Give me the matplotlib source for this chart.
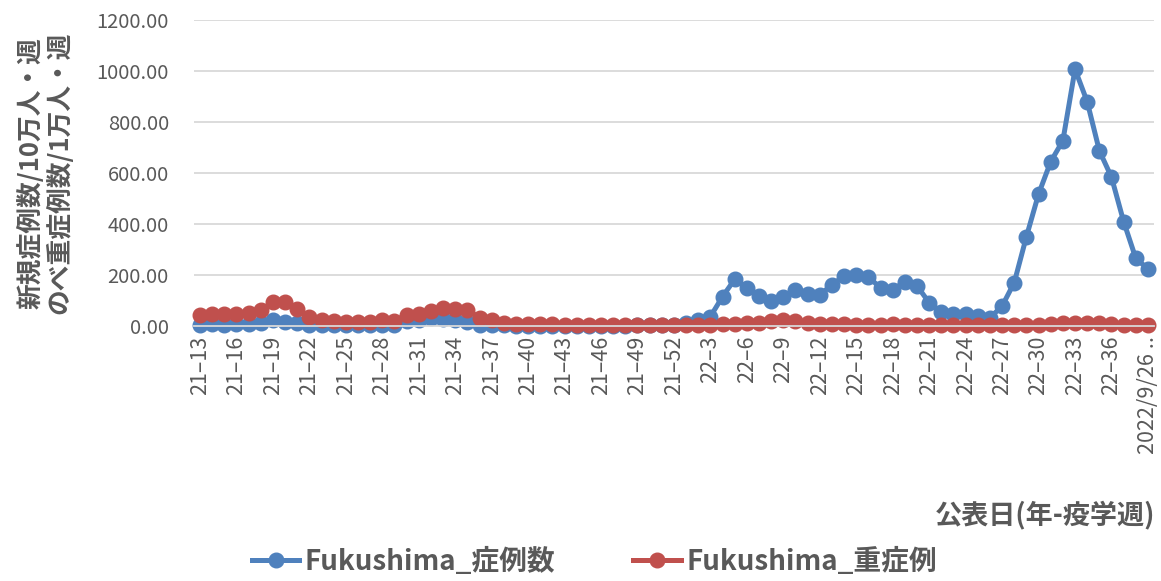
import matplotlib
matplotlib.use('Agg')
import matplotlib.pyplot as plt

plt.rcParams['font.family'] = ['Noto Sans CJK JP', 'DejaVu Sans']

# categories: 21-13 .. 21-52, 22-1 .. 22-38, then the last date
WEEKS_21 = list(range(13, 53))
WEEKS_22 = list(range(1, 39))
LAST_LABEL = '2022/9/26 ..'
categories = (['21–{}'.format(w) for w in WEEKS_21]
              + ['22–{}'.format(w) for w in WEEKS_22]
              + [LAST_LABEL])

# new cases per 100k per week
cases = [5, 6, 5, 6, 6, 12, 25, 15, 10, 3,
         2, 2, 2, 2, 3, 3, 3, 18, 22, 30,
         27, 25, 15, 5, 2, 2, 1, 1, 1, 1,
         1, 1, 1, 1, 1, 1, 2, 2, 3, 5,
         10, 23, 37, 115, 183, 148, 119, 99, 112, 141,
         125, 122, 161, 196, 201, 193, 148, 141, 174, 157,
         91, 55, 45, 45, 40, 32, 78, 170, 350, 517,
         644, 726, 1006, 879, 687, 583, 409, 265, 223]

# severe cases per 10k per week
severe = [43, 46, 46, 46, 50, 63, 92, 92, 67, 36,
          24, 20, 17, 14, 17, 24, 20, 43, 48, 57,
          70, 66, 62, 33, 24, 12, 8, 7, 6, 6,
          5, 5, 5, 5, 5, 4, 4, 4, 3, 3,
          3, 4, 5, 6, 8, 10, 10, 20, 24, 20,
          12, 8, 8, 6, 5, 5, 5, 6, 5, 4,
          3, 3, 3, 3, 3, 3, 3, 3, 4, 5,
          6, 10, 12, 12, 12, 8, 5, 3, 2]

BLUE = '#4F81BD'
RED = '#C0504D'
GREY = '#595959'

fig = plt.figure(figsize=(11.61, 5.81), dpi=100)
ax = fig.add_axes([0.167, 0.439, 0.827, 0.527])

x = list(range(len(categories)))
ax.plot(x, cases, color=BLUE, lw=3.6, marker='o', ms=10.5,
        label='Fukushima_症例数', clip_on=False)
ax.plot(x, severe, color=RED, lw=3.6, marker='o', ms=10.5,
        label='Fukushima_重症例', clip_on=False)

ax.set_xlim(-0.5, len(categories) - 0.5)
ax.set_ylim(0, 1200)
ax.set_yticks(range(0, 1201, 200))
ax.set_yticklabels(['{:.2f}'.format(v) for v in range(0, 1201, 200)])
ax.set_xticks(x[::3])
ax.set_xticklabels(categories[::3], rotation=90, va='top', ha='center')

ax.grid(axis='y', color='#D9D9D9', lw=1.3)
ax.set_axisbelow(True)
for s in ['top', 'right', 'left']:
    ax.spines[s].set_visible(False)
ax.spines['bottom'].set_color('#D9D9D9')
ax.spines['bottom'].set_linewidth(1.3)
ax.tick_params(axis='both', length=0, colors=GREY)
ax.tick_params(axis='y', pad=18, labelsize=14.5)
ax.tick_params(axis='x', pad=7, labelsize=15.5)

fig.text(0.039, 0.702, '新規症例数/10万人・週\nのべ重症例数/1万人・週',
         rotation=90, ha='center', va='center', fontsize=18.5,
         fontweight='bold', color=GREY, linespacing=1.1)
fig.text(0.995, 0.113, '公表日(年-疫学週)', ha='right', va='center',
         fontsize=19.5, fontweight='bold', color=GREY)

leg = fig.legend(loc='center', bbox_to_anchor=(0.512, 0.033), ncol=2,
                 frameon=False, handlelength=1.7,
                 columnspacing=2.8, handletextpad=0.2,
                 prop={'weight': 'bold', 'size': 20})
for t in leg.get_texts():
    t.set_color(GREY)

fig.savefig('out.png', dpi=100)
